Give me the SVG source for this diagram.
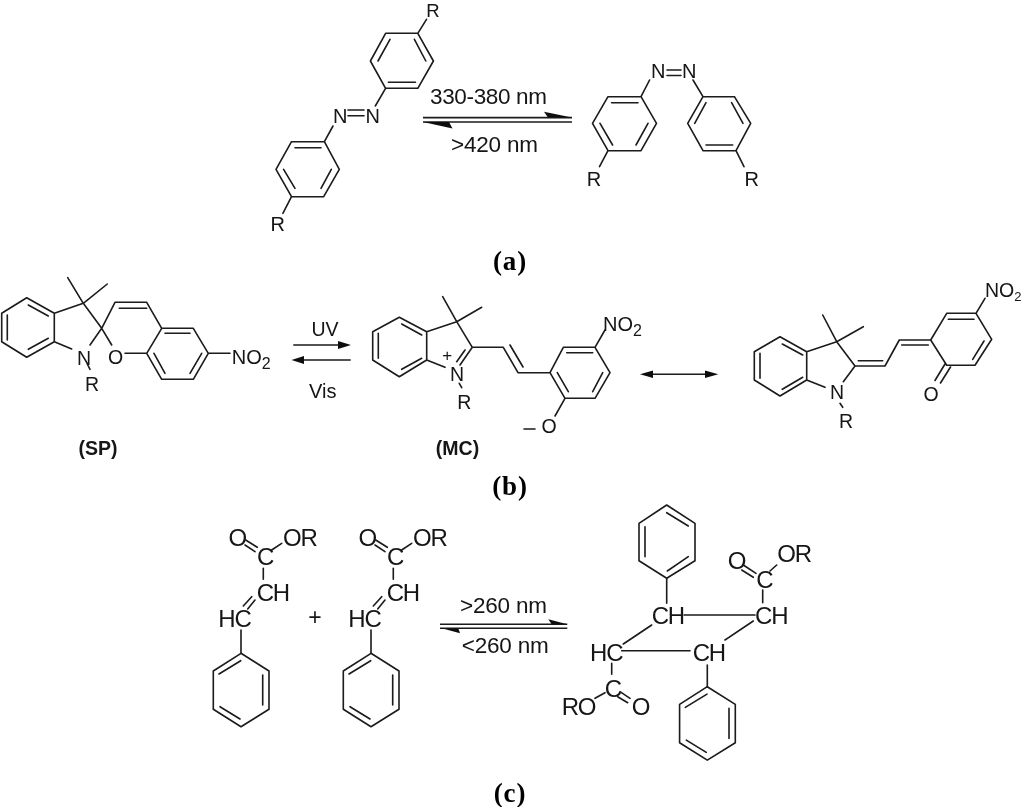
<svg xmlns="http://www.w3.org/2000/svg" width="1024" height="807" viewBox="0 0 1024 807">
<style>
.b{fill:none;stroke:#1a1a1a;stroke-width:1.6;stroke-linecap:round;stroke-linejoin:round}
.a{fill:none;stroke:#1a1a1a;stroke-width:1.6}
.h{fill:#111;stroke:none}
text{font-family:"Liberation Sans",Arial,sans-serif;fill:#141414}
.t1{font-size:20px}
.t2{font-size:19.5px}
.t3{font-size:24px;letter-spacing:-1.2px}
.n{font-size:20px}
.s{font-size:16px}
.cap{font-family:"Liberation Serif","Times New Roman",serif;font-size:27px;font-weight:bold;fill:#000;letter-spacing:.8px;text-anchor:middle}
.lb{font-weight:bold;font-size:19.5px;text-anchor:middle}
.m{text-anchor:middle}
</style>
<defs>
<filter id="soft" x="-2%" y="-2%" width="104%" height="104%"><feGaussianBlur stdDeviation="0.35"/></filter>
<path id="ph" class="b" d="M0 0L28 17.7V56L0 73.4L-27.7 56V17.7ZM-.3 7.4L-22 20.7M21.7 21.7V51.7M-21 53.4L-1 65.7"/>
</defs>
<g filter="url(#soft)">
<g id="connectors">
<path class="a" d="M423 117.6H572M423 122H572"/>
<path class="h" d="M544 111.7L572 117.6H548ZM423 122L452.5 128.4L449 122Z"/>
<path class="a" d="M293.3 345H340M350.7 360H302"/>
<path class="h" d="M351 345L338 341V349ZM291.5 360L304 356V364Z"/>
<path class="a" d="M650 374.3H708"/>
<path class="h" d="M640 374.3L653 370.5V378ZM718.3 374.3L705 370.5V378Z"/>
<path class="a" d="M440 624.3H567.3M440 628.3H567.3"/>
<path class="h" d="M548.3 619.3L567.3 624.3H551.7ZM441.7 628.3L460 633.3L458.3 628.3Z"/>
</g>
<g id="arrow-labels">
<text x="430" y="104.3" textLength="117" lengthAdjust="spacing" style="font-size:22.5px">330-380 nm</text>
<text x="451" y="151.7" textLength="87" lengthAdjust="spacing" style="font-size:22.5px">&gt;420 nm</text>
<text class="t2 m" x="325" y="336">UV</text>
<text class="t2 m" x="322.7" y="398.3" style="font-size:20px">Vis</text>
<text x="460" y="613.3" textLength="87" lengthAdjust="spacing" style="font-size:22.5px">&gt;260 nm</text>
<text x="461.7" y="653.3" textLength="87" lengthAdjust="spacing" style="font-size:22.5px">&lt;260 nm</text>
<text class="m" x="315" y="624.5" style="font-size:23px">+</text>
</g>
<g id="azo-trans">
<path class="b" d="M385.6 33.3H417.8L433.4 61L417.8 88.3H385.6L370.4 61ZM378 61L390 39.3M414.4 39.3L425.8 61M388.4 82.3H415.4M417.8 33.3L426.5 19.3M375.3 106L385.6 88.3M348 110H364M348 115.7H364M324.4 141.7L333 126M291.5 141.7H324.4L339.3 169.3L323.7 196.7H291.5L276 169.3ZM295 147.7H321M331.3 169.3L321 188.3M283.6 169.3L295 188.3M291.5 196.7L282.9 213.3"/>
<text class="m" x="433" y="17" style="font-size:18.5px">R</text>
<text class="t1" x="333" y="123">N</text>
<text class="t1" x="365.5" y="123">N</text>
<text class="t1 m" x="277.7" y="231">R</text>
</g>
<g id="azo-cis">
<path class="b" d="M649.6 80L641 96.7M693 80L703 96.7M667 70H681M667 75.5H681M608 96.7H641L656.5 123.3L641 150.7H608L592.5 123.3ZM611.6 102.7H638M648 123.3L636 145M600 123.3L612.6 145M608 150.7L599.5 166.7M703 96.7H734.4L750.7 123.3L736 150.7H703L687.7 123.3ZM694.7 123.3L706 102.7M731.6 102.7L743 123.3M706 145H732.7M736 150.7L744 166.7"/>
<text class="t1" x="651" y="78.3">N</text>
<text class="t1" x="682" y="78.3">N</text>
<text class="t1 m" x="594" y="185.7">R</text>
<text class="t1 m" x="751.7" y="185.7">R</text>
</g>
<text class="cap" x="510" y="270">(a)</text>
<g id="spiropyran">
<path class="b" d="M26.7 297.7L54.3 313.3V341.7L26.7 357.3L1.7 341.7V313.3ZM28.3 305L48.3 316M7.3 315V340M28.3 349.3L48.3 338.3M54.3 313.3L83.3 303.3L101.7 328.3L90 345M54.3 341.7L71.7 349M83.3 303.3L67.7 277.7M83.3 303.3L107.3 284M87.3 364L90 369.3M101.7 328.3L111.7 345M101.7 328.3L115 302.3H146.7L161.7 328.3H193.3L208.3 353.3L193.3 379.3H161.7L146.7 353.3L161.7 328.3M119.3 308.3H146.7M165 333.3H190M201.7 353.3L190 373.3M154 353.3L165 373.3M125 353.3H146.7M208.3 353.3H230"/>
<text class="t2" x="77" y="365">N</text>
<text class="t2 m" x="92" y="390.7">R</text>
<text class="t2 m" x="115.7" y="364.3">O</text>
<text class="n" x="231.7" y="364.3">NO<tspan class="s" dy="4.5">2</tspan></text>
<text class="lb" x="98" y="455">(SP)</text>
</g>
<g id="merocyanine">
<path class="b" d="M399.3 317.3L426.7 331.7V360L399.3 376.7L372.7 360V331.7ZM401.7 324L421.7 335M378.3 333.3V358.3M401.7 369.3L421.7 358.3M426.7 331.7L456.7 321.7L472.3 347.3L460 365M465 350L456.7 361.7M426.7 360L445 367.3M456.7 321.7L442.7 296.7M456.7 321.7L481.7 307.3M459.3 383.3L461.7 387.7M472.3 347.3H503.3L518 372.7H550M510 345L523 367M563.3 347.3H595L610 372.7L595 398.3H565L550 372.7ZM566.7 352.7H592.7M602.7 372.7L592.7 391.7M557.3 372.7L568.3 391.7M595 347.3L605 330M565 398.3L555 416M524 429H535"/>
<text class="m" x="447.3" y="361" style="font-size:17px">+</text>
<text class="t2" x="450" y="380.7">N</text>
<text class="t2 m" x="464.3" y="409.3">R</text>
<text class="n" x="603" y="331">NO<tspan class="s" dy="4.5">2</tspan></text>
<text class="t2 m" x="549" y="433.3">O</text>
<text class="lb" x="457.5" y="455">(MC)</text>
</g>
<g id="quinoid">
<path class="b" d="M780 336.7L806.7 351.7V380L780 396L754.3 380V351.7ZM782.3 344L802.7 355M760 353.3V378.3M782.3 389.3L802.7 377.3M806.7 351.7L836.7 341.7L855 366L843.3 381.7M806.7 380L825 387.3M836.7 341.7L822.7 315M836.7 341.7L863.3 326.7M840 403.3L842.7 407.3M855 366H885L899.3 340H930.7L946.7 313.3H976L991.7 339.3L975 365.3H946.7L930.7 340M858.3 360.7H882.7M901.7 345H928.3M948.3 319.3H974M984 341L972.7 359.3M945 364L935 380.5M950.5 367L940.5 383M976 313.3L985 298.3"/>
<text class="t2" x="830" y="399.3">N</text>
<text class="t2 m" x="846" y="428.3">R</text>
<text class="t2 m" x="931" y="401">O</text>
<text class="n" x="985" y="296.7" style="font-size:19.5px">NO<tspan class="s" dy="4" style="font-size:13px">2</tspan></text>
</g>
<text class="cap" x="510" y="495">(b)</text>
<g id="cinnamate-1">
<path class="b" d="M245.7 540L257.3 547.3M245 545L255 551.7M271.7 550L281.7 543.3M263.3 568.3V579.3M251.7 596.7L243.3 606M255 600L247.7 609M241 630V653.3"/>
<use href="#ph" x="241" y="653.3"/>
<text class="t3 m" x="237.3" y="545.7">O</text>
<text class="t3" x="283" y="545.7">OR</text>
<text class="t3 m" x="265" y="565">C</text>
<text class="t3" x="256.7" y="600.7">CH</text>
<text class="t3" x="218.3" y="626.7">HC</text>
</g>
<g id="cinnamate-2">
<path class="b" d="M375.7 540L387.3 547.3M375 545L385 551.7M401.7 550L411.7 543.3M393.3 568.3V579.3M381.7 596.7L373.3 606M385 600L377.7 609M371 630V653.3"/>
<use href="#ph" x="371" y="653.3"/>
<text class="t3 m" x="367.3" y="545.7">O</text>
<text class="t3" x="413" y="545.7">OR</text>
<text class="t3 m" x="395" y="565">C</text>
<text class="t3" x="386.7" y="600.7">CH</text>
<text class="t3" x="348.3" y="626.7">HC</text>
</g>
<g id="cyclobutane">
<path class="b" d="M666.7 578.3V603.3M684 615H755M651.7 625L623.3 644M621.7 650.7H690M725 640L753.3 621M762.7 590V602.7M743.3 565L756 573.3M741.7 570L753.3 577.3M770 571L776.7 565M611.7 663.3V674.3M595 698.3L605 692.7M620 691.7L630 698.3M617.7 696.7L627.7 702.7M707.3 665V687.3"/>
<path class="b" d="M666.7 505L695 523.3V560.7L666.7 578.3L639 560.7V523.3ZM666.7 512.7L688.3 526M645 526.7V556.7M667.3 571L688.3 556.7"/>
<use href="#ph" x="707.3" y="686.7"/>
<text class="t3" x="651.7" y="624">CH</text>
<text class="t3" x="755" y="624">CH</text>
<text class="t3" x="590" y="660.7">HC</text>
<text class="t3" x="692.7" y="660.7">CH</text>
<text class="t3 m" x="764.3" y="587.7">C</text>
<text class="t3" x="727.7" y="569.3">O</text>
<text class="t3" x="777.3" y="561.7">OR</text>
<text class="t3 m" x="612.7" y="696.7">C</text>
<text class="t3" x="561.7" y="715">RO</text>
<text class="t3" x="631.7" y="715">O</text>
</g>
<text class="cap" x="510" y="802">(c)</text>
</g>
</svg>
